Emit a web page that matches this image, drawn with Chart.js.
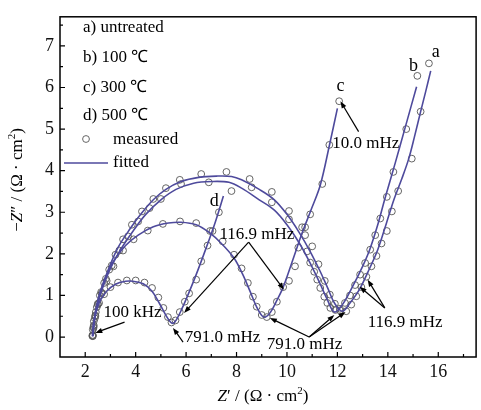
<!DOCTYPE html>
<html>
<head>
<meta charset="utf-8">
<script src="https://cdn.jsdelivr.net/npm/chart.js@4.4.1/dist/chart.umd.min.js"></script>
<style>
  html, body { margin: 0; background: #fff; }
</style>
</head>
<body>
<canvas id="nyquist" width="481" height="410"></canvas>
<script>
// axis ticks
const xTicks = [2, 4, 6, 8, 10, 12, 14, 16]
const xMinor = [3, 5, 7, 9, 11, 13, 15, 17]
const yTicks = [0, 1, 2, 3, 4, 5, 6, 7]
const yMinor = [0.5, 1.5, 2.5, 3.5, 4.5, 5.5, 6.5, 7.5]

// fitted curves, [Z', -Z'']
const fitA = [[2.3,0.02],[2.35,0.35],[2.45,0.75],[2.6,1.1],[2.9,1.6],[3.3,2.15],[3.8,2.62],[4.2,2.95],[4.7,3.3],[5.2,3.55],[5.8,3.74],[6.5,3.84],[7.2,3.87],[7.8,3.86],[8.2,3.78],[8.9,3.55],[9.5,3.3],[10.0,2.95],[10.5,2.5],[10.9,2.08],[11.3,1.6],[11.6,1.2],[11.9,0.8],[12.2,0.62],[12.5,0.82],[12.87,1.14],[13.2,1.55],[13.6,2.1],[13.95,2.75],[14.25,3.32],[14.55,3.8],[14.83,4.29],[15.05,4.8],[15.3,5.42],[15.5,5.9],[15.7,6.4]]
const fitB = [[2.3,0.02],[2.37,0.4],[2.5,0.8],[2.7,1.2],[3.0,1.65],[3.4,2.1],[3.9,2.55],[4.4,2.95],[5.0,3.3],[5.6,3.55],[6.3,3.7],[7.0,3.74],[7.7,3.72],[8.2,3.58],[8.9,3.3],[9.5,3.05],[10.0,2.7],[10.5,2.25],[10.9,1.8],[11.3,1.3],[11.6,0.9],[11.88,0.6],[12.2,0.78],[12.6,1.21],[13.0,1.7],[13.28,2.1],[13.6,2.7],[13.88,3.32],[14.3,4.2],[14.67,5.0],[15.14,6.02]]
const fitC = [[2.3,0.02],[2.36,0.45],[2.5,0.85],[2.7,1.25],[3.1,1.8],[3.6,2.2],[4.1,2.45],[4.7,2.65],[5.3,2.74],[5.8,2.76],[6.4,2.7],[6.9,2.52],[7.4,2.25],[7.9,1.9],[8.25,1.5],[8.55,1.08],[8.8,0.72],[9.0,0.52],[9.15,0.48],[9.35,0.6],[9.6,0.88],[9.85,1.2],[10.2,1.8],[10.6,2.5],[10.95,3.05],[11.32,3.65],[11.68,4.6],[12.0,5.5]]
const fitD = [[2.28,0.02],[2.32,0.3],[2.42,0.58],[2.6,0.88],[2.85,1.1],[3.2,1.27],[3.6,1.34],[3.9,1.34],[4.3,1.28],[4.65,1.1],[4.95,0.8],[5.2,0.52],[5.38,0.36],[5.48,0.33],[5.62,0.42],[5.85,0.7],[6.1,1.05],[6.4,1.5],[6.8,2.15],[7.15,2.75],[7.48,3.39]]

// measured points
const measA = [[2.3,0.02],[2.33,0.22],[2.38,0.45],[2.46,0.72],[2.58,1.0],[2.75,1.3],[2.95,1.62],[3.2,1.98],[3.5,2.35],[3.85,2.7],[4.25,3.02],[4.7,3.32],[5.2,3.58],[5.75,3.78],[6.6,3.92],[7.6,3.97],[8.52,3.8],[9.4,3.49],[10.08,3.03],[10.72,2.64],[11.0,2.18],[11.25,1.75],[11.5,1.35],[11.7,1.02],[11.9,0.8],[12.1,0.64],[12.35,0.62],[12.55,0.78],[12.75,0.98],[12.95,1.2],[13.15,1.45],[13.35,1.7],[13.55,1.95],[13.75,2.25],[13.96,2.55],[14.16,3.02],[14.41,3.51],[14.95,4.29],[15.3,5.42],[15.63,6.58]]
const measB = [[2.3,0.05],[2.34,0.28],[2.4,0.52],[2.5,0.8],[2.63,1.08],[2.82,1.4],[3.05,1.72],[3.35,2.08],[3.7,2.42],[4.1,2.78],[4.55,3.1],[5.0,3.32],[5.8,3.68],[6.9,3.72],[7.8,3.51],[8.6,3.6],[9.4,3.24],[10.08,2.83],[10.72,2.45],[10.8,2.06],[10.92,1.79],[11.08,1.57],[11.2,1.38],[11.32,1.18],[11.48,0.97],[11.6,0.82],[11.72,0.7],[11.92,0.65],[12.1,0.68],[12.3,0.82],[12.5,1.0],[12.7,1.25],[12.9,1.5],[13.1,1.78],[13.3,2.1],[13.5,2.45],[13.7,2.85],[13.96,3.37],[14.22,3.97],[14.73,5.0],[15.17,6.28]]
const measC = [[2.3,0.03],[2.33,0.25],[2.4,0.5],[2.5,0.78],[2.65,1.05],[2.85,1.35],[3.12,1.7],[3.5,2.08],[3.92,2.35],[4.48,2.56],[5.08,2.72],[5.76,2.78],[6.4,2.74],[6.95,2.55],[7.45,2.3],[7.9,1.98],[8.2,1.65],[8.45,1.3],[8.65,0.97],[8.8,0.73],[9.0,0.53],[9.2,0.48],[9.4,0.6],[9.6,0.85],[9.85,1.2],[10.08,1.35],[10.32,1.7],[10.45,2.15],[10.6,2.64],[10.92,2.95],[11.4,3.68],[11.68,4.62],[12.07,5.67]]
const measD = [[2.28,0.03],[2.3,0.18],[2.34,0.38],[2.42,0.6],[2.55,0.82],[2.75,1.03],[3.0,1.2],[3.3,1.31],[3.65,1.36],[4.0,1.36],[4.35,1.31],[4.65,1.18],[4.9,0.95],[5.1,0.7],[5.28,0.48],[5.42,0.35],[5.58,0.4],[5.75,0.6],[5.95,0.85],[6.12,1.05],[6.4,1.38],[6.6,1.82],[6.85,2.2],[7.05,2.55],[7.3,3.0]]

// curve letters
const curveNames = ['a', 'b', 'c', 'd']
const curveNameX = [15.9, 15.02, 12.12, 7.12]
const curveNameY = [6.85, 6.52, 6.02, 3.27]

// frequency notes and arrows
const noteText = ['100 kHz', '791.0 mHz', '791.0 mHz', '116.9 mHz', '116.9 mHz', '10.0 mHz']
const noteX = [2.72, 5.95, 9.2, 7.32, 13.2, 11.8]
const noteY = [0.6, -0.02, -0.19, 2.47, 0.34, 4.65]
const arrows = [
	[3.56, 0.36, 2.4, 0.1],
	[5.88, -0.12, 5.48, 0.22],
	[10.88, 0.0, 9.32, 0.46], [10.88, 0.0, 11.88, 0.53], [10.88, 0.0, 12.32, 0.6],
	[8.48, 2.28, 5.92, 0.58], [8.48, 2.28, 9.88, 1.14],
	[13.88, 0.7, 12.88, 1.21], [13.88, 0.7, 13.2, 1.38],
	[12.84, 4.94, 12.12, 5.67]
]

const legendLines = ['a) untreated', 'b) 100 \u2103', 'c) 300 \u2103', 'd) 500 \u2103']

const SERIF = '"Liberation Serif", "Times New Roman", serif'
const LINE = '#4e4a9c'
const DOT = '#555'

const pts = a => a.map(p => ({ x: p[0], y: p[1] }))

const fitted = (d) => ({
	data: pts(d), showLine: true, borderColor: LINE, borderWidth: 1.6,
	pointRadius: 0, tension: 0.35, fill: false
})
const measured = (d) => ({
	data: pts(d), showLine: false, pointRadius: 3.4, pointBorderColor: DOT,
	pointBackgroundColor: 'rgba(0,0,0,0)', pointBorderWidth: 0.9
})

function drawRuns(ctx, runs, cx, cy) {
	let w = 0
	runs.forEach(r => { ctx.font = r.font; w += ctx.measureText(r.t).width })
	let x = cx - w / 2
	ctx.textBaseline = 'middle'
	ctx.textAlign = 'left'
	runs.forEach(r => {
		ctx.font = r.font
		ctx.fillText(r.t, x, cy + (r.dy || 0))
		x += ctx.measureText(r.t).width
	})
}

function arrow(ctx, x1, y1, x2, y2) {
	const ang = Math.atan2(y2 - y1, x2 - x1)
	const hl = 7, hw = 2.6
	ctx.beginPath()
	ctx.moveTo(x1, y1)
	ctx.lineTo(x2 - Math.cos(ang) * hl * 0.8, y2 - Math.sin(ang) * hl * 0.8)
	ctx.stroke()
	ctx.beginPath()
	ctx.moveTo(x2, y2)
	ctx.lineTo(x2 - Math.cos(ang) * hl - Math.sin(ang) * hw, y2 - Math.sin(ang) * hl + Math.cos(ang) * hw)
	ctx.lineTo(x2 - Math.cos(ang) * hl + Math.sin(ang) * hw, y2 - Math.sin(ang) * hl - Math.cos(ang) * hw)
	ctx.closePath()
	ctx.fill()
}

const decor = {
	id: 'decor',
	afterDraw(chart) {
		const { ctx, chartArea: a } = chart
		const x = chart.scales.x, y = chart.scales.y
		ctx.save()
		ctx.strokeStyle = '#000'
		ctx.fillStyle = '#000'

		// frame
		ctx.lineWidth = 1.5
		ctx.strokeRect(a.left, a.top, a.right - a.left, a.bottom - a.top)

		// inward ticks
		ctx.lineWidth = 1.2
		ctx.beginPath()
		xTicks.forEach(v => { const p = x.getPixelForValue(v); ctx.moveTo(p, a.bottom); ctx.lineTo(p, a.bottom - 5) })
		xMinor.forEach(v => { const p = x.getPixelForValue(v); ctx.moveTo(p, a.bottom); ctx.lineTo(p, a.bottom - 3) })
		yTicks.forEach(v => { const p = y.getPixelForValue(v); ctx.moveTo(a.left, p); ctx.lineTo(a.left + 5, p) })
		yMinor.forEach(v => { const p = y.getPixelForValue(v); ctx.moveTo(a.left, p); ctx.lineTo(a.left + 3, p) })
		ctx.stroke()

		// axis titles
		const f = '17px ' + SERIF, fi = 'italic 17px ' + SERIF, fs = '11px ' + SERIF
		drawRuns(ctx, [{ t: 'Z', font: fi }, { t: '\u2032 / (\u03a9 \u00b7 cm', font: f }, { t: '2', font: fs, dy: -6 }, { t: ')', font: f }], 263, 397)
		ctx.save()
		ctx.translate(18, 180)
		ctx.rotate(-Math.PI / 2)
		drawRuns(ctx, [{ t: '\u2212', font: f }, { t: 'Z', font: fi }, { t: '\u2033 / (\u03a9 \u00b7 cm', font: f }, { t: '2', font: fs, dy: -6 }, { t: ')', font: f }], 0, 0)
		ctx.restore()

		// legend
		ctx.font = f
		ctx.textAlign = 'left'
		ctx.textBaseline = 'middle'
		const ly = [28, 58, 88, 116]
		legendLines.forEach((t, i) => ctx.fillText(t, 83, ly[i]))
		ctx.lineWidth = 0.9
		ctx.strokeStyle = DOT
		ctx.beginPath()
		ctx.arc(86, 139, 3.4, 0, Math.PI * 2)
		ctx.stroke()
		ctx.fillText('measured', 113, 140)
		ctx.strokeStyle = LINE
		ctx.lineWidth = 1.6
		ctx.beginPath()
		ctx.moveTo(64, 163)
		ctx.lineTo(108, 163)
		ctx.stroke()
		ctx.fillText('fitted', 113, 163)

		// curve letters
		ctx.textAlign = 'center'
		ctx.font = '18px ' + SERIF
		curveNames.forEach((t, i) => ctx.fillText(t, x.getPixelForValue(curveNameX[i]), y.getPixelForValue(curveNameY[i])))

		// notes
		ctx.font = f
		ctx.textAlign = 'left'
		noteText.forEach((t, i) => ctx.fillText(t, x.getPixelForValue(noteX[i]), y.getPixelForValue(noteY[i])))
		ctx.strokeStyle = '#000'
		ctx.lineWidth = 1.2
		arrows.forEach(r => arrow(ctx, x.getPixelForValue(r[0]), y.getPixelForValue(r[1]), x.getPixelForValue(r[2]), y.getPixelForValue(r[3])))
		ctx.restore()
	}
}

const chart = new Chart(document.getElementById('nyquist').getContext('2d'), {
	type: 'scatter',
	data: {
		datasets: [fitted(fitA), fitted(fitB), fitted(fitC), fitted(fitD),
			measured(measA), measured(measB), measured(measC), measured(measD)]
	},
	options: {
		responsive: false,
		animation: false,
		layout: { padding: { left: 0, right: 3, top: 13, bottom: 0 } },
		plugins: { legend: { display: false }, tooltip: { enabled: false } },
		scales: {
			x: {
				type: 'linear', min: 1, max: 17.5,
				afterFit: s => { s.height = 53 },
				afterBuildTicks: s => { s.ticks = xTicks.map(v => ({ value: v })) },
				grid: { display: false, drawTicks: false },
				border: { display: false },
				ticks: { font: { family: SERIF, size: 18 }, color: '#111', padding: 4, maxRotation: 0 }
			},
			y: {
				type: 'linear', min: -0.48, max: 7.7,
				afterFit: s => { s.width = 60 },
				afterBuildTicks: s => { s.ticks = yTicks.map(v => ({ value: v })) },
				grid: { display: false, drawTicks: false },
				border: { display: false },
				ticks: { font: { family: SERIF, size: 18 }, color: '#111', padding: 6 }
			}
		}
	},
	plugins: [decor]
})
</script>
</body>
</html>
